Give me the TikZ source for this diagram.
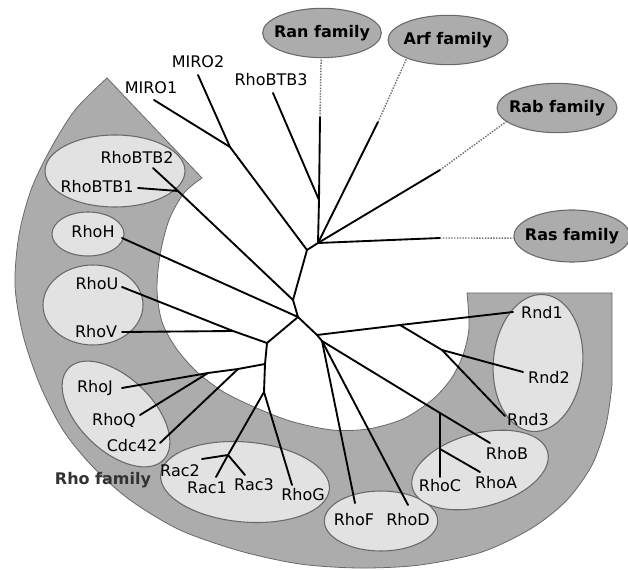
\documentclass[tikz,border=0pt]{standalone}
\usepackage{fontspec}
\setmainfont{DejaVu Sans}
\usepackage{tikz}
\usetikzlibrary{shapes.geometric}
\definecolor{bandgray}{RGB}{172,172,172}
\definecolor{grpgray}{RGB}{226,226,226}
\definecolor{rimgray}{RGB}{105,105,105}
\tikzset{
  band/.style={fill=bandgray,draw=rimgray,line width=0.6pt},
  grp/.style={ellipse,fill=grpgray,draw=rimgray,line width=0.8pt,inner sep=0pt},
  fam/.style={ellipse,fill=bandgray,draw=rimgray,line width=0.8pt,inner sep=0pt},
  famtxt/.style={font=\bfseries\fontsize{12}{14}\selectfont,inner sep=0pt},
  lbl/.style={font=\fontsize{12}{14}\selectfont,inner sep=1pt},
  branch/.style={line width=1.4pt,line cap=round},
  faint/.style={densely dotted,line width=1.1pt,black!55}
}

\begin{document}
\begin{tikzpicture}[x=0.75pt,y=-0.75pt,line join=round]
  \useasboundingbox (0,0) rectangle (628,570);

  % grey band round the Rho family
  \draw[band] (612,293) -- (612,385)
    -- plot[smooth] coordinates {(612,385) (606,425) (592,465) (567,500)
       (532,528) (482,552) (420,565) (360,568) (300,564) (240,551) (180,530)
       (130,500) (93,467) (63,430) (40,385) (23,335) (15,285) (19,235)
       (31,190) (50,150) (75,110) (107,78)}
    -- (202,178)
    -- plot[smooth] coordinates {(202,178) (184,193) (169,220) (160,255)
       (157,290) (162,322) (176,348) (196,371) (222,391) (252,406) (290,421)
       (332,430) (368,429) (403,419) (432,400) (451,379) (463,355) (469,328)
       (467,293)}
    -- cycle;

  % subfamily groups
  \node[grp,minimum width=105pt,minimum height=54pt] (g-btb) at (115,171) {};
  \node[grp,minimum width=54pt,minimum height=33pt] (g-h) at (88,234) {};
  \node[grp,minimum width=75pt,minimum height=60pt] (g-uv) at (93,305) {};
  \node[grp,minimum width=99pt,minimum height=55pt,rotate=-44] (g-cdc) at (116,414) {};
  \node[grp,minimum width=127pt,minimum height=60pt,rotate=-5] (g-rac) at (245,482) {};
  \node[grp,minimum width=85pt,minimum height=45pt] (g-fd) at (381,521) {};
  \node[grp,minimum width=105pt,minimum height=55pt,rotate=15] (g-abc) at (480,470) {};
  \node[grp,minimum width=67pt,minimum height=103pt,rotate=-5] (g-rnd) at (538,363) {};

  % other families
  \node[fam,minimum width=89pt,minimum height=37pt,
        label={[famtxt]center:Ran family}] (ran) at (322,33) {};
  \node[fam,minimum width=90pt,minimum height=37pt,
        label={[famtxt]center:Arf family}] (arf) at (448,40) {};
  \node[fam,minimum width=90pt,minimum height=37pt,
        label={[famtxt]center:Rab family}] (rab) at (557,108) {};
  \node[fam,minimum width=87pt,minimum height=39pt,
        label={[famtxt]center:Ras family}] (ras) at (572,236) {};

  % inner branch points
  \coordinate (R) at (318,243);
  \coordinate (J1) at (307,250);
  \coordinate (J2) at (293,300);
  \coordinate (J3) at (298,317);
  \coordinate (J4) at (267,343);
  \coordinate (J5) at (317,335);
  \coordinate (J6) at (264,392);
  \coordinate (J7) at (322,341);
  \coordinate (mj) at (230,147);
  \coordinate (b3j) at (319,200);
  \coordinate (btbj) at (178,191);
  \coordinate (uvj) at (233,331);
  \coordinate (cdcj) at (265,364);
  \coordinate (qj) at (208,373);
  \coordinate (cj) at (238,369);
  \coordinate (racj) at (228,455);
  \coordinate (rndj) at (400,325);
  \coordinate (rndk) at (442,350);
  \coordinate (caj) at (440,413);
  \coordinate (cak) at (440,449);

  % leaf ends
  \coordinate (e-miro1) at (154,100);
  \coordinate (e-miro2) at (198,75);
  \coordinate (e-btb3) at (273,93);
  \coordinate (e-btb2) at (153,168);
  \coordinate (e-btb1) at (138,188);
  \coordinate (e-h) at (122,238);
  \coordinate (e-u) at (122,287);
  \coordinate (e-v) at (122,332);
  \coordinate (e-j) at (122,388);
  \coordinate (e-q) at (140,415);
  \coordinate (e-cdc) at (160,443);
  \coordinate (e-rac2) at (202,459);
  \coordinate (e-rac1) at (216,477);
  \coordinate (e-rac3) at (245,475);
  \coordinate (e-g) at (292,485);
  \coordinate (e-f) at (355,503);
  \coordinate (e-d) at (408,505);
  \coordinate (e-c) at (440,477);
  \coordinate (e-a) at (480,472);
  \coordinate (e-b) at (490,443);
  \coordinate (e-rnd1) at (513,312);
  \coordinate (e-rnd2) at (523,372);
  \coordinate (e-rnd3) at (505,416);
  \coordinate (ranS) at (320,117);
  \coordinate (arfS) at (378,122);
  \coordinate (rabS) at (440,170);
  \coordinate (rasS) at (440,238);

  % links to the other families
  \draw[branch] (R) -- (b3j) -- (ranS);
  \draw[branch] (b3j) -- (e-btb3);
  \draw[branch] (R) -- (arfS);
  \draw[branch] (R) -- (rabS);
  \draw[branch] (R) -- (rasS);
  \draw[faint] (ranS) -- (ran.268);
  \draw[faint] (arfS) -- (arf.204);
  \draw[faint] (rabS) -- (rab.195);
  \draw[faint] (rasS) -- (ras.182);

  % MIRO and RhoBTB
  \draw[branch] (R) -- (J1) -- (mj) -- (e-miro1);
  \draw[branch] (mj) -- (e-miro2);
  \draw[branch] (J1) -- (J2) -- (btbj) -- (e-btb2);
  \draw[branch] (btbj) -- (e-btb1);

  % Rho family
  \draw[branch] (J2) -- (J3) -- (e-h);
  \draw[branch] (J3) -- (J4) -- (uvj) -- (e-u);
  \draw[branch] (uvj) -- (e-v);
  \draw[branch] (J4) -- (cdcj) -- (J6);
  \draw[branch] (cdcj) -- (cj) -- (qj) -- (e-j);
  \draw[branch] (qj) -- (e-q);
  \draw[branch] (cj) -- (e-cdc);
  \draw[branch] (J6) -- (racj) -- (e-rac2);
  \draw[branch] (racj) -- (e-rac1);
  \draw[branch] (racj) -- (e-rac3);
  \draw[branch] (J6) -- (e-g);
  \draw[branch] (J3) -- (J5) -- (rndj) -- (e-rnd1);
  \draw[branch] (rndj) -- (rndk) -- (e-rnd2);
  \draw[branch] (rndk) -- (e-rnd3);
  \draw[branch] (J5) -- (J7) -- (caj) -- (e-b);
  \draw[branch] (caj) -- (cak) -- (e-c);
  \draw[branch] (cak) -- (e-a);
  \draw[branch] (J7) -- (e-f);
  \draw[branch] (J7) -- (e-d);

  % labels
  \node[lbl] (l-miro1) at (151,88) {MIRO1};
  \node[lbl] (l-miro2) at (198,62) {MIRO2};
  \node[lbl] (l-btb3) at (271,80) {RhoBTB3};
  \node[lbl] (l-btb2) at (137,158) {RhoBTB2};
  \node[lbl] (l-btb1) at (97,187) {RhoBTB1};
  \node[lbl] (l-h) at (93,232) {RhoH};
  \node[lbl] (l-u) at (97,284) {RhoU};
  \node[lbl] (l-v) at (96,332) {RhoV};
  \node[lbl] (l-j) at (95,388) {RhoJ};
  \node[lbl] (l-q) at (114,420) {RhoQ};
  \node[lbl] (l-cdc) at (132,446) {Cdc42};
  \node[famtxt,text=black!80] (l-rho) at (103,480) {Rho family};
  \node[lbl] (l-rac2) at (180,471) {Rac2};
  \node[lbl] (l-rac1) at (207,488) {Rac1};
  \node[lbl] (l-rac3) at (254,485) {Rac3};
  \node[lbl] (l-g) at (303,495) {RhoG};
  \node[lbl] (l-f) at (354,520) {RhoF};
  \node[lbl] (l-d) at (408,520) {RhoD};
  \node[lbl] (l-c) at (440,486) {RhoC};
  \node[lbl] (l-a) at (496,483) {RhoA};
  \node[lbl] (l-b) at (507,454) {RhoB};
  \node[lbl] (l-rnd1) at (542,313) {Rnd1};
  \node[lbl] (l-rnd2) at (549,378) {Rnd2};
  \node[lbl] (l-rnd3) at (528,420) {Rnd3};
\end{tikzpicture}
\end{document}
